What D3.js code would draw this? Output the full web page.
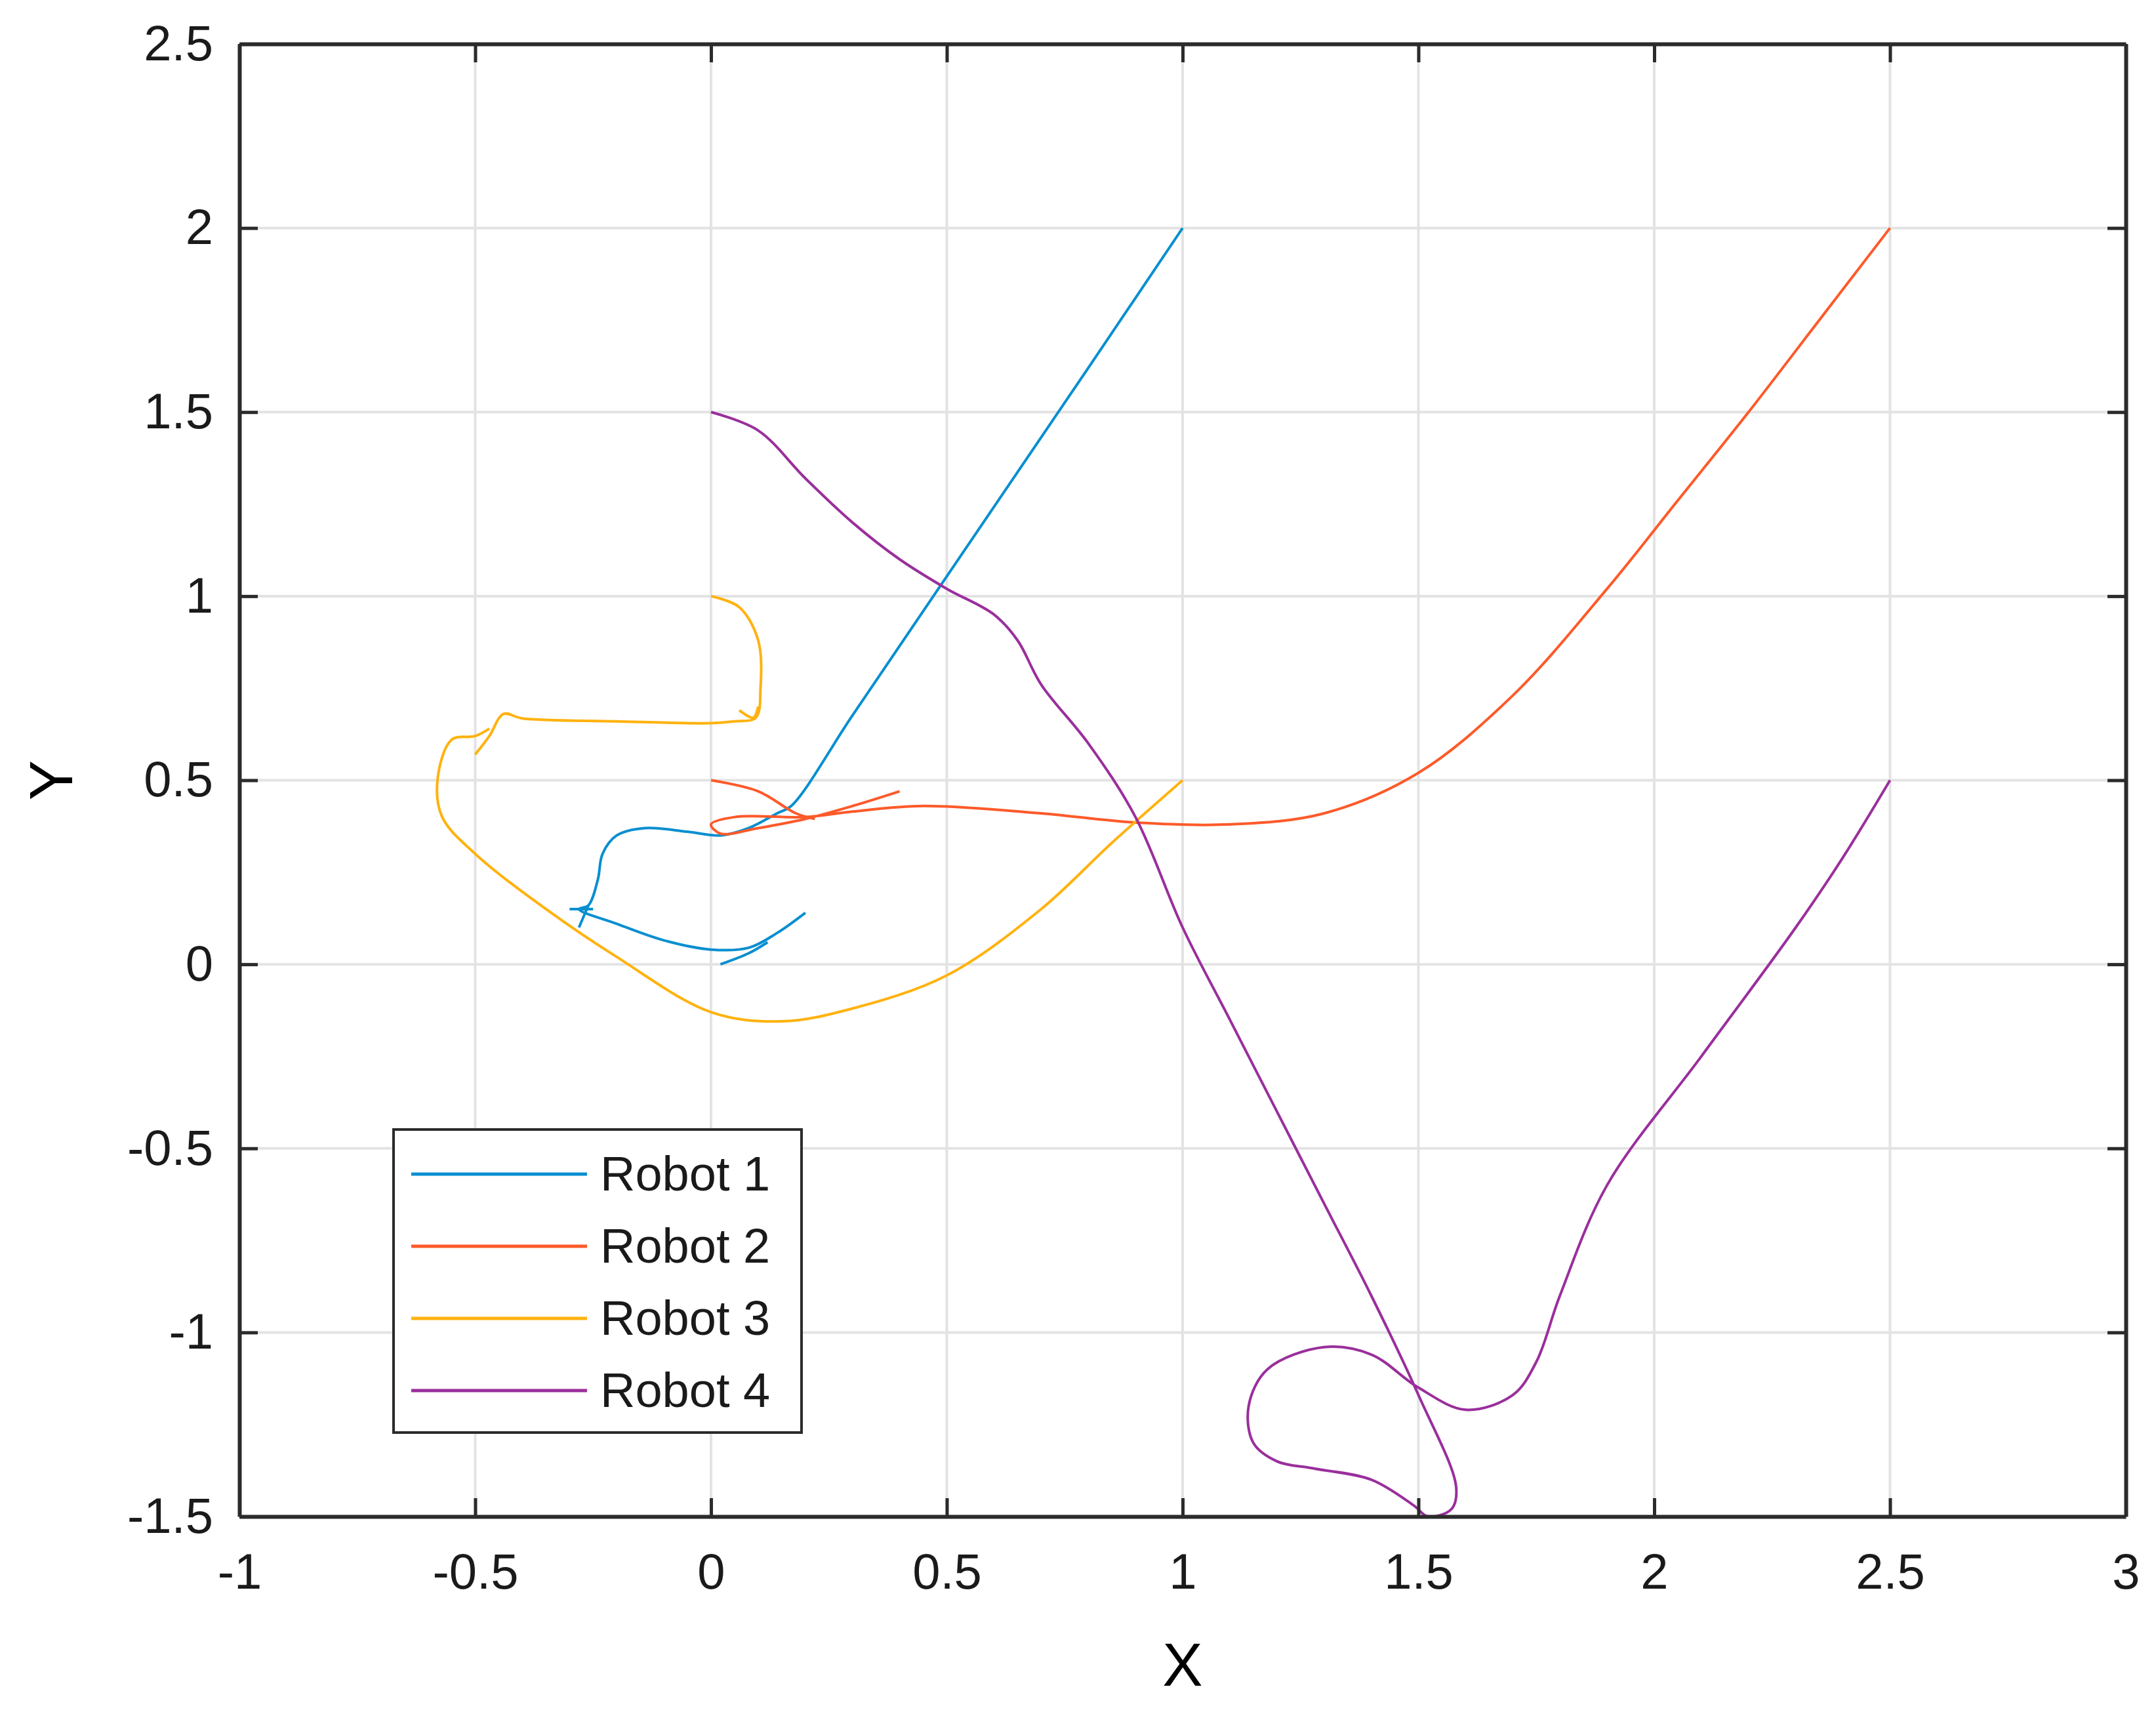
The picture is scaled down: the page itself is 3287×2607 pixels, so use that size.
<!DOCTYPE html>
<html><head><meta charset="utf-8">
<script src="https://cdn.jsdelivr.net/npm/d3@7"></script>
<style>body{margin:0;background:#fff}text{font-family:"Liberation Sans",Arial,sans-serif}</style>
</head><body>
<svg id="chart" width="3287" height="2607"></svg>
<script>
const xTicks=[-1,-0.5,0,0.5,1,1.5,2,2.5,3];
const yTicks=[-1.5,-1,-0.5,0,0.5,1,1.5,2,2.5];
const names=["Robot 1","Robot 2","Robot 3","Robot 4"];
const colors=["#0a8fd0","#fd5a2a","#ffb20f","#9a2f9c"];
// each robot: list of path pieces
const robot1=[
 [[0.2,0.14],[0.14,0.085],[0.08,0.045],[0,0.04],[-0.1,0.065],[-0.2,0.11],[-0.28,0.15],[-0.26,0.16],[-0.24,0.23],[-0.23,0.3],[-0.2,0.35],[-0.14,0.37],[-0.05,0.36],[0.02,0.35],[0.08,0.37],[0.14,0.41],[0.17,0.43],[0.3,0.676],[0.5,1.054],[0.8,1.62],[0.9,1.81],[1.0,2.0]],
 [[0.02,0],[0.08,0.03],[0.12,0.06]],
 [[-0.3,0.15],[-0.25,0.15]],[[-0.28,0.1],[-0.26,0.16]]
];
const robot2=[
 [[2.5,2],[2.35,1.75],[2.2,1.5],[2.05,1.26],[1.9,1.02],[1.7,0.73],[1.5,0.52],[1.3,0.41],[1.1,0.38],[0.9,0.385],[0.7,0.41],[0.45,0.43],[0.3,0.415],[0.2,0.4],[0.05,0.4],[0,0.38],[0.02,0.355],[0.1,0.37],[0.2,0.395],[0.3,0.43],[0.4,0.47]],
 [[0,0.5],[0.1,0.47],[0.18,0.41],[0.22,0.395]]
];
const robot3=[
 [[0,1],[0.06,0.97],[0.1,0.88],[0.105,0.75],[0.095,0.67],[0.05,0.66],[0,0.655],[-0.2,0.66],[-0.4,0.668],[-0.44,0.68],[-0.47,0.62],[-0.5,0.57]],
 [[-0.47,0.64],[-0.5,0.62],[-0.55,0.61],[-0.58,0.5],[-0.57,0.4],[-0.5,0.3],[-0.35,0.15],[-0.2,0.02],[0,-0.13],[0.15,-0.155],[0.3,-0.12],[0.5,-0.03],[0.7,0.15],[0.85,0.33],[1.0,0.5]],
 [[0.06,0.69],[0.09,0.67],[0.1,0.7]]
];
const robot4=[
 [[0,1.5],[0.1,1.45],[0.2,1.32],[0.3,1.2],[0.4,1.1],[0.5,1.02],[0.6,0.95],[0.65,0.88],[0.7,0.76],[0.8,0.6],[0.9,0.4],[1.0,0.1],[1.1,-0.15],[1.2,-0.4],[1.3,-0.65],[1.4,-0.9],[1.5,-1.17],[1.58,-1.42],[1.57,-1.48],[1.52,-1.5],[1.49,-1.47],[1.4,-1.4],[1.28,-1.37],[1.2,-1.35],[1.15,-1.3],[1.14,-1.2],[1.18,-1.1],[1.3,-1.04],[1.4,-1.06],[1.5,-1.15],[1.6,-1.21],[1.7,-1.17],[1.75,-1.08],[1.8,-0.9],[1.9,-0.6],[2.1,-0.25],[2.3,0.1],[2.4,0.29],[2.5,0.5]]
];
const robots=[robot1,robot2,robot3,robot4];

const svg=d3.select("#chart");
const L=365,R=3241,T=67,B=2312;
const x=d3.scaleLinear().domain([-1,3]).range([L,R]);
const y=d3.scaleLinear().domain([-1.5,2.5]).range([B,T]);

// grid
svg.append("g").selectAll("line").data(xTicks).join("line")
 .attr("x1",d=>x(d)).attr("x2",d=>x(d)).attr("y1",T).attr("y2",B)
 .attr("stroke","#e3e3e3").attr("stroke-width",4);
svg.append("g").selectAll("line").data(yTicks).join("line")
 .attr("y1",d=>y(d)).attr("y2",d=>y(d)).attr("x1",L).attr("x2",R)
 .attr("stroke","#e3e3e3").attr("stroke-width",4);

const line=d3.line().x(d=>x(d[0])).y(d=>y(d[1])).curve(d3.curveCatmullRom.alpha(0.5));
robots.forEach((r,i)=>{
 svg.append("g").selectAll("path").data(r).join("path")
  .attr("d",line).attr("fill","none").attr("stroke",colors[i]).attr("stroke-width",4);
});

// axes (inward ticks, box)
const fmt=d=>String(d);
svg.append("g").attr("transform",`translate(0,${B})`).call(d3.axisBottom(x).tickValues(xTicks).tickFormat(fmt).tickSizeInner(-28).tickSizeOuter(0).tickPadding(56));
svg.append("g").attr("transform",`translate(0,${T})`).call(d3.axisTop(x).tickValues(xTicks).tickFormat("").tickSizeInner(-28).tickSizeOuter(0));
svg.append("g").attr("transform",`translate(${L},0)`).call(d3.axisLeft(y).tickValues(yTicks).tickFormat(fmt).tickSizeInner(-28).tickSizeOuter(0).tickPadding(40));
svg.append("g").attr("transform",`translate(${R},0)`).call(d3.axisRight(y).tickValues(yTicks).tickFormat("").tickSizeInner(-28).tickSizeOuter(0));
svg.selectAll(".domain").attr("stroke","#2b2b2b").attr("stroke-width",6);
svg.selectAll(".tick line").attr("stroke","#2b2b2b").attr("stroke-width",5);
svg.selectAll(".tick text").attr("font-size",76).attr("fill","#1a1a1a");

svg.append("text").attr("x",(L+R)/2).attr("y",2570).attr("text-anchor","middle").attr("font-size",92).text("X");
svg.append("text").attr("transform",`translate(110,${(T+B)/2}) rotate(-90)`).attr("text-anchor","middle").attr("font-size",92).text("Y");

// legend
const lg=svg.append("g");
lg.append("rect").attr("x",600).attr("y",1722).attr("width",622).attr("height",462).attr("fill","#fff").attr("stroke","#2b2b2b").attr("stroke-width",4);
names.forEach((n,i)=>{
 const yy=1790+i*110;
 lg.append("line").attr("x1",627).attr("x2",895).attr("y1",yy).attr("y2",yy).attr("stroke",colors[i]).attr("stroke-width",5);
 lg.append("text").attr("x",915).attr("y",yy+25).attr("font-size",74).attr("fill","#1a1a1a").text(n);
});
</script>
</body></html>
